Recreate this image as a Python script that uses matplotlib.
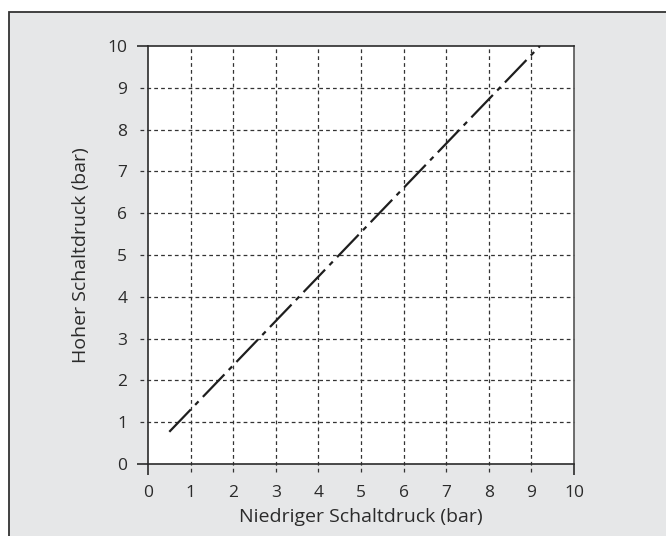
import matplotlib
matplotlib.use("Agg")
import matplotlib.pyplot as plt
from matplotlib.patches import Rectangle

plt.rcParams["font.family"] = ["Open Sans", "DejaVu Sans"]

# data
low_pressure = [0.5, 9.2]
high_pressure = [0.77, 10.0]
ticks = [0, 1, 2, 3, 4, 5, 6, 7, 8, 9, 10]
xlabel = "Niedriger Schaltdruck (bar)"
ylabel = "Hoher Schaltdruck (bar)"

bg = "#e6e7e8"
ink = "#2b2b2b"

fig = plt.figure(figsize=(6.66, 5.36), dpi=100, facecolor="white")

# grey panel with a dark frame (only left/top edges fall inside the image)
fig.patches.append(Rectangle((9 / 666, -0.1), 1.2, 1.1 - 12 / 536,
                             transform=fig.transFigure, facecolor=bg,
                             edgecolor="#333333", linewidth=1.3, zorder=-5))

ax = fig.add_axes([148 / 666, 1 - 464 / 536, 426 / 666, 418 / 536])
ax.set_zorder(2)
ax.set_facecolor("white")
ax.set_xlim(0, 10)
ax.set_ylim(0, 10)
ax.set_xticks(ticks)
ax.set_yticks(ticks)

for side in ["left", "bottom", "top", "right"]:
    ax.spines[side].set_color(ink)
    ax.spines[side].set_linewidth(1.2)
ax.spines["right"].set_color("#555555")

ax.tick_params(direction="out", length=8, width=1.2, color=ink,
               labelsize=12.5, labelcolor=ink, pad=7)
# only 0 and 10 get solid tick marks, the rest are dashed grid extensions
for t in ax.xaxis.get_major_ticks()[1:-1] + ax.yaxis.get_major_ticks()[1:-1]:
    t.tick1line.set_visible(False)

ext = 8 / 42.6
grid_style = dict(colors="#333333", linewidth=0.9, linestyles=(0, (3, 2.5)),
                  clip_on=False, zorder=1)
ax.hlines(ticks[1:-1], -ext, 10, **grid_style)
ax.vlines(ticks[1:-1], -ext, 10, **grid_style)

ax.plot(low_pressure, high_pressure, color="#1e1e1e", linewidth=1.6,
        dashes=(14, 2.8, 2.2, 2.8), solid_capstyle="butt", zorder=3)

ax.set_xlabel(xlabel, fontsize=14, color=ink, labelpad=5)
ax.set_ylabel(ylabel, fontsize=14, color=ink, labelpad=12)

fig.savefig("out.png", dpi=100, facecolor="white")
